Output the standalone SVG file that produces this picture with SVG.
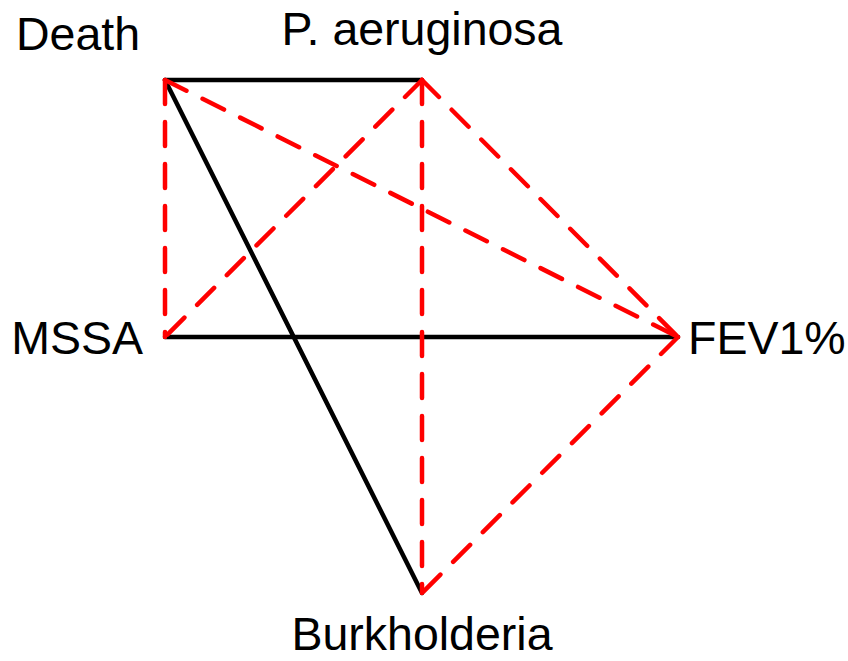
<svg xmlns="http://www.w3.org/2000/svg" width="848" height="661" viewBox="0 0 848 661">
<style>
.solid{stroke:#000;stroke-width:4.5;stroke-linecap:round;fill:none}
.dash{stroke:#ff0000;stroke-width:4.5;stroke-linecap:round;stroke-dasharray:24 18;fill:none}
text{font-family:"Liberation Sans",Arial,sans-serif;font-size:46.5px;fill:#000}
</style>
<rect width="848" height="661" fill="#fff"/>
<g id="connectors">
<line class="solid" x1="165" y1="80" x2="422" y2="80"/>
<line class="solid" x1="165" y1="80" x2="422" y2="593"/>
<line class="solid" x1="165" y1="337" x2="678" y2="337"/>
<line class="dash" x1="165" y1="80" x2="165" y2="337"/>
<line class="dash" x1="165" y1="80" x2="678" y2="337"/>
<line class="dash" x1="422" y1="80" x2="165" y2="337"/>
<line class="dash" x1="422" y1="80" x2="422" y2="593"/>
<line class="dash" x1="422" y1="80" x2="678" y2="337"/>
<line class="dash" x1="678" y1="337" x2="422" y2="593"/>
</g>
<g id="death"><text x="78" y="50" text-anchor="middle">Death</text></g>
<g id="paeruginosa"><text x="422" y="45" text-anchor="middle">P. aeruginosa</text></g>
<g id="mssa"><text x="143" y="354" text-anchor="end">MSSA</text></g>
<g id="fev1"><text x="688" y="354">FEV1%</text></g>
<g id="burkholderia"><text x="422" y="650" text-anchor="middle">Burkholderia</text></g>
</svg>
